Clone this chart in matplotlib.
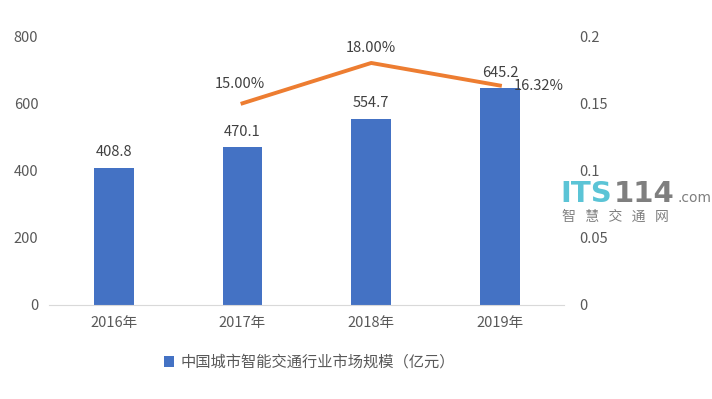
import numpy as np
import matplotlib.pyplot as plt

plt.rcParams['font.family'] = ['Noto Sans CJK SC', 'DejaVu Sans']

years = ['2016年', '2017年', '2018年', '2019年']
market = [408.8, 470.1, 554.7, 645.2]
growth_years = [1, 2, 3]
growth = [0.15, 0.18, 0.1632]
growth_labels = ['15.00%', '18.00%', '16.32%']
legend_label = '中国城市智能交通行业市场规模（亿元）'

grey = '#595959'
blue = '#4472C4'
orange = '#ED7D31'

fig = plt.figure(figsize=(7.12, 3.99), dpi=100)
ax = fig.add_axes([0.0695, 0.2356, 0.723, 0.674])
ax2 = ax.twinx()

x = np.arange(len(years))
ax.bar(x, market, width=0.31, color=blue, label=legend_label, zorder=2)
for xi, v in zip(x, market):
    ax.annotate('%.1f' % v, (xi, v), xytext=(0, 6), textcoords='offset points',
                ha='center', va='bottom', fontsize=10.5, color='#404040')

ax.set_xlim(-0.5, 3.5)
ax.set_ylim(0, 800)
ax.set_yticks(range(0, 801, 200))
ax.set_xticks(x)
ax.set_xticklabels(years)
ax.tick_params(axis='both', length=0, labelsize=10.5, labelcolor=grey)
ax.tick_params(axis='y', pad=8)
ax.tick_params(axis='x', pad=8)
for s in ['top', 'left', 'right']:
    ax.spines[s].set_visible(False)
ax.spines['bottom'].set_color('#D9D9D9')

ax2.plot(growth_years, growth, color=orange, linewidth=2.8, zorder=3)
ax2.set_ylim(0, 0.2)
ax2.set_yticks([0, 0.05, 0.1, 0.15, 0.2])
ax2.set_yticklabels(['0', '0.05', '0.1', '0.15', '0.2'])
ax2.tick_params(axis='y', length=0, labelsize=10.5, labelcolor=grey, pad=11)
for s in ['top', 'left', 'right', 'bottom']:
    ax2.spines[s].set_visible(False)

offsets = [(-2, 9, 'center'), (0, 6, 'center'), (10, 0, 'left')]
for xi, v, lab, (dx, dy, ha) in zip(growth_years, growth, growth_labels, offsets):
    ax2.annotate(lab, (xi, v), xytext=(dx, dy), textcoords='offset points',
                 ha=ha, va='bottom' if dy else 'center', fontsize=10.5, color='#404040')

ax.legend(loc='upper center', bbox_to_anchor=(0.505, -0.13), frameon=False,
          fontsize=11, labelcolor=grey, handlelength=0.7, handleheight=0.7,
          handletextpad=0.4)

# watermark
fig.text(0.787, 0.515, 'ITS', fontsize=21, fontweight='bold', color='#5BC4D6',
         ha='left', va='center', family='DejaVu Sans')
fig.text(0.862, 0.515, '114', fontsize=21, fontweight='bold', color='#7F7F7F',
         ha='left', va='center', family='DejaVu Sans')
fig.text(0.951, 0.505, '.com', fontsize=10, color='#7F7F7F',
         ha='left', va='center', family='DejaVu Sans')
fig.text(0.79, 0.457, '智   慧   交   通   网', fontsize=10, color='#808080',
         ha='left', va='center', family='Noto Sans CJK SC')

fig.savefig('out.png', dpi=100)
